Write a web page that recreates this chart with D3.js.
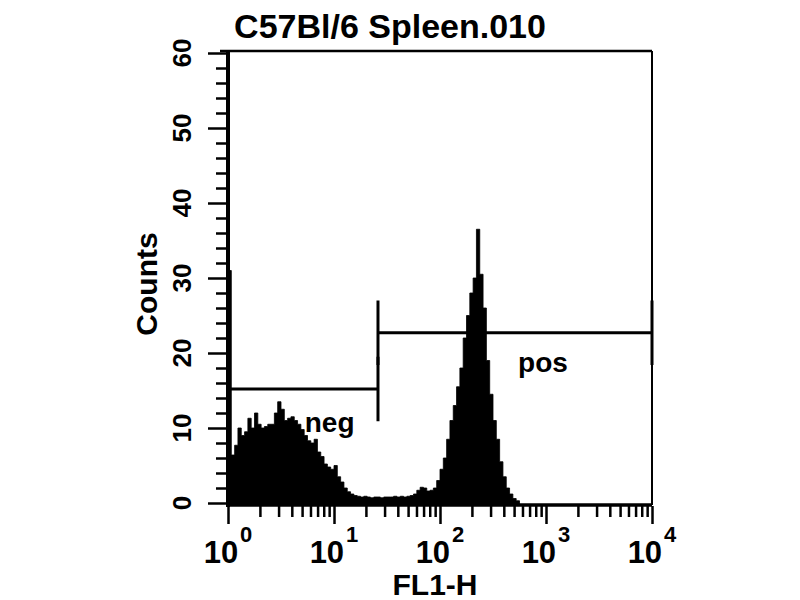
<!DOCTYPE html>
<meta charset="utf-8">
<title>C57Bl/6 Spleen.010</title>
<style>

body {
  margin: 0;
  background: #fff;
}

svg {
  font-family: "Liberation Sans", Arial, sans-serif;
  font-weight: bold;
}

.axis path {
  display: none;
}

.axis line {
  stroke: #000;
  stroke-width: 2.5px;
}

.frame {
  stroke: #000;
  fill: none;
}

.gate {
  stroke: #000;
  stroke-width: 3px;
}

.hist {
  fill: #000;
  stroke: #000;
  stroke-width: 0.8px;
}

</style>
<body>
<script src="https://d3js.org/d3.v7.min.js"></script>
<script>

// FL1-H histogram, 32 log channels per decade; channels after the last are empty
var channelsPerDecade = 32;
var counts = [
  31, 6.4, 7.7, 10, 9, 9.5, 11.3, 10, 12, 10.5,
  10, 10.2, 10.5, 10.5, 12, 13.5, 12.5, 11, 11.3, 11.5,
  11, 10.5, 9.8, 9, 8.3, 8, 8.5, 6.8, 6.2, 5.2,
  4.8, 4.5, 5, 3.5, 2.8, 2, 1.5, 1.2, 1, 0.9,
  0.8, 0.9, 0.8, 0.7, 0.8, 0.8, 0.7, 0.8, 0.8, 0.8,
  0.9, 0.8, 0.9, 0.8, 0.9, 1, 1.2, 1.7, 2.1, 2,
  1.6, 1.7, 2, 3, 4.5, 6, 8.5, 11, 13, 15.5,
  18, 22, 25, 28, 30, 36.5, 30.5, 26, 19, 14.5,
  11, 8.5, 5.5, 3.5, 2, 1.2, 0.6, 0.3
];

var yTickValues = d3.range(0, 61, 2);
var yLabelValues = [0, 10, 20, 30, 40, 50, 60];
var xDecades = [0, 1, 2, 3, 4];

var gateNames = ["neg", "pos"];
var gateLo = [1, 26];
var gateHi = [26, 10000];
var gateLevel = [15.2, 22.7];
var gateLabelX = [5.3, 545];
var gateLabelY = [9.5, 17.5];

var titleText = "C57Bl/6 Spleen.010",
    xTitle = "FL1-H",
    yTitle = "Counts";

var margin = {top: 53, right: 148, bottom: 97, left: 228},
    width = 800 - margin.left - margin.right,
    height = 600 - margin.top - margin.bottom;

var x = d3.scaleLog()
    .domain([1, 1e4])
    .range([0, width]);

var y = d3.scaleLinear()
    .domain([0, 60])
    .range([height, 0]);

var xTickValues = [];
xDecades.forEach(function(d) {
  d3.range(1, 10).forEach(function(m) {
    if (d < 4 || m == 1) xTickValues.push(m * Math.pow(10, d));
  });
});

var svg = d3.select("body").append("svg")
    .attr("width", 800)
    .attr("height", 600)
  .append("g")
    .attr("transform", "translate(" + margin.left + "," + margin.top + ")");

// histogram as one stepped area (last point closes the final channel)
var steps = counts.map(function(c, i) {
  return {v: Math.pow(10, i / channelsPerDecade), c: c};
});
steps.push({v: Math.pow(10, counts.length / channelsPerDecade), c: 0});

var area = d3.area()
    .curve(d3.curveStepAfter)
    .x(function(d) { return x(d.v); })
    .y0(y(0) + 2)
    .y1(function(d) { return y(d.c); });

svg.append("path")
    .datum(steps)
    .attr("class", "hist")
    .attr("d", area);

// frame
svg.append("line").attr("class", "frame")
    .attr("x1", -8).attr("x2", width).attr("y1", -2).attr("y2", -2)
    .style("stroke-width", 2.5);
svg.append("line").attr("class", "frame")
    .attr("x1", width).attr("x2", width).attr("y1", -2).attr("y2", height + 2)
    .style("stroke-width", 2);
svg.append("line").attr("class", "frame")
    .attr("x1", 0).attr("x2", 0).attr("y1", -3).attr("y2", height + 4)
    .style("stroke-width", 4);
svg.append("line").attr("class", "frame")
    .attr("x1", 0).attr("x2", width).attr("y1", height + 2).attr("y2", height + 2)
    .style("stroke-width", 3.5);

// axes
var yAxis = d3.axisLeft(y)
    .tickValues(yTickValues)
    .tickFormat("")
    .tickSizeOuter(0);

var gy = svg.append("g")
    .attr("class", "y axis")
    .attr("transform", "translate(-2,0)")
    .call(yAxis);

gy.selectAll(".tick line")
    .attr("x2", function(d) { return d % 10 == 0 ? -18 : -10; });

var xAxis = d3.axisBottom(x)
    .tickValues(xTickValues)
    .tickFormat("")
    .tickSizeOuter(0);

var gx = svg.append("g")
    .attr("class", "x axis")
    .attr("transform", "translate(0," + (height + 3) + ")")
    .call(xAxis);

gx.selectAll(".tick line")
    .attr("y2", function(d) { return Math.abs(Math.log10(d) % 1) < 1e-9 ? 18 : 11; });

// y tick labels, rotated
svg.selectAll(".ylabel")
    .data(yLabelValues)
  .enter().append("text")
    .attr("class", "ylabel")
    .attr("transform", function(d) { return "translate(-37," + y(d) + ") rotate(-90)"; })
    .attr("text-anchor", "middle")
    .style("font-size", "26px")
    .text(function(d) { return d; });

// x tick labels, powers of ten
var xl = svg.selectAll(".xlabel")
    .data(xDecades)
  .enter().append("text")
    .attr("class", "xlabel")
    .attr("x", function(d) { return x(Math.pow(10, d)); })
    .attr("y", height + 60)
    .attr("text-anchor", "middle")
    .style("font-size", "31px");

xl.append("tspan").text("10");
xl.append("tspan")
    .attr("dx", 2)
    .attr("dy", -21)
    .style("font-size", "22px")
    .text(function(d) { return d; });

// gates
svg.selectAll(".gate-h")
    .data(gateNames)
  .enter().append("line")
    .attr("class", "gate")
    .attr("x1", function(d, i) { return x(gateLo[i]); })
    .attr("x2", function(d, i) { return x(gateHi[i]); })
    .attr("y1", function(d, i) { return y(gateLevel[i]); })
    .attr("y2", function(d, i) { return y(gateLevel[i]); });

gateNames.forEach(function(name, i) {
  [gateLo[i], gateHi[i]].forEach(function(v) {
    svg.append("line")
        .attr("class", "gate")
        .attr("x1", x(v)).attr("x2", x(v))
        .attr("y1", y(gateLevel[i] + 4.3))
        .attr("y2", y(gateLevel[i] - 4.3));
  });
});

svg.selectAll(".gate-label")
    .data(gateNames)
  .enter().append("text")
    .attr("class", "gate-label")
    .attr("x", function(d, i) { return x(gateLabelX[i]); })
    .attr("y", function(d, i) { return y(gateLabelY[i]); })
    .style("font-size", "28px")
    .text(function(d) { return d; });

// titles
svg.append("text")
    .attr("x", 162)
    .attr("y", -15)
    .attr("text-anchor", "middle")
    .style("font-size", "34px")
    .text(titleText);

svg.append("text")
    .attr("x", 207)
    .attr("y", height + 92)
    .attr("text-anchor", "middle")
    .style("font-size", "30px")
    .text(xTitle);

svg.append("text")
    .attr("transform", "translate(-71," + (y(30) + 6) + ") rotate(-90)")
    .attr("text-anchor", "middle")
    .style("font-size", "30px")
    .text(yTitle);

</script>
